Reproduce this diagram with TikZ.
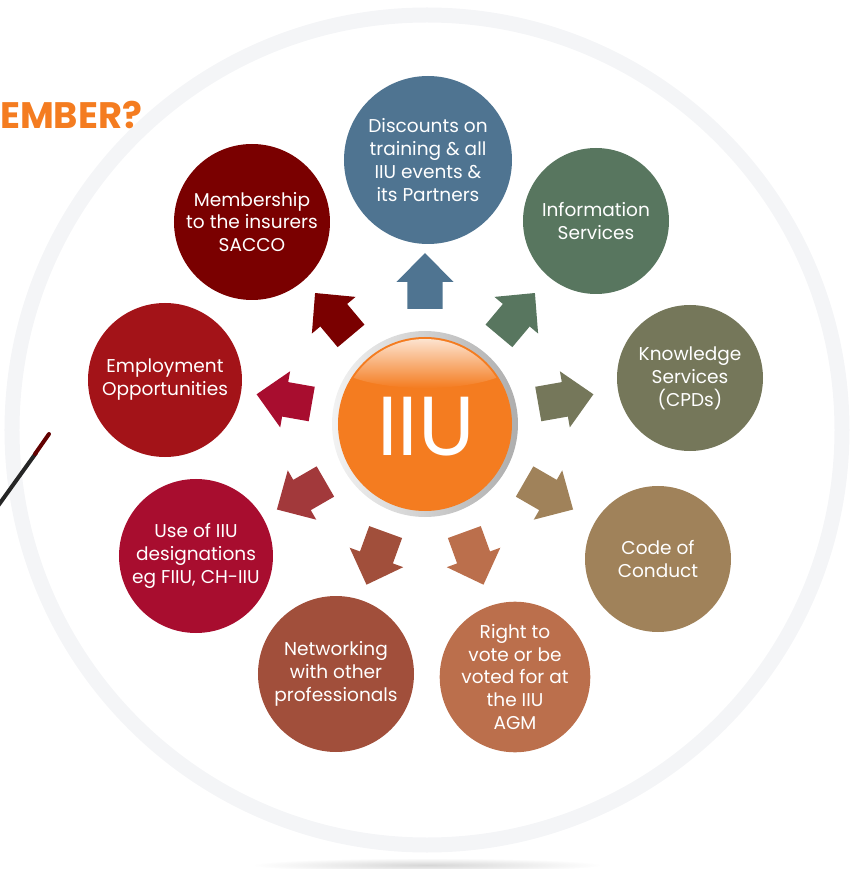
\documentclass[tikz,border=0pt]{standalone}
\usepackage{fontspec}
\setmainfont{Poppins}

\definecolor{iiuorange}{HTML}{F47C20}
\definecolor{ringgrey}{HTML}{F4F5F7}
\definecolor{discblue}{HTML}{4F7491}
\definecolor{infogreen}{HTML}{58765F}
\definecolor{knowolive}{HTML}{75775A}
\definecolor{codetan}{HTML}{A0825A}
\definecolor{votebrown}{HTML}{BB6F4C}
\definecolor{netbrown}{HTML}{A14F3B}
\definecolor{desigcrimson}{HTML}{A80D2F}
\definecolor{desigbrick}{HTML}{A2393B}
\definecolor{employred}{HTML}{A31318}
\definecolor{memmaroon}{HTML}{7A0000}

\tikzset{
  benefit/.style={circle, inner sep=0pt, text=white, align=center,
    font=\fontsize{18.6}{23}\selectfont},
}

\begin{document}
\begin{tikzpicture}[x=1bp,y=1bp]
\useasboundingbox (-425,-445) rectangle (425,424);

% big pale ring and its shadow
\shade[inner color=black!16, outer color=white] (2,-441) ellipse[x radius=175, y radius=7];
\draw[ringgrey, line width=15bp] (2,-6) circle[radius=415];

% heading at the left edge
\node[anchor=west, inner sep=0pt, text=iiuorange, font=\bfseries\fontsize{37}{37}\selectfont] (head) at (-425,309) {EMBER?};

% pen
\draw[black!85, line width=4bp, line cap=round] (-440,-100) -- (-389,-29);
\draw[memmaroon!80!black, line width=4bp, line cap=round] (-390,-30) -- (-376,-10);

% hub
\shade[left color=black!5, right color=black!32] (0,0) circle[radius=93];
\fill[iiuorange] (0,0) circle[radius=87];
\begin{scope}
  \clip (0,0) circle[radius=85];
  \shade[top color=white!96!iiuorange, bottom color=iiuorange] (0,66) ellipse[x radius=95, y radius=30];
\end{scope}
\node[circle, minimum size=186bp, inner sep=0pt] (hub) at (0,0) {};
\node[text=white, font=\fontsize{84}{84}\selectfont] (hubtext) at (1,-3) {IIU};

% benefits
\node[benefit, fill=discblue, minimum size=168bp] (disc) at (3,264) {Discounts on\\training \& all\\IIU events \&\\its Partners};
\node[benefit, fill=infogreen, minimum size=146bp] (info) at (171,203) {Information\\Services};
\node[benefit, fill=knowolive, minimum size=146bp] (know) at (265,46) {Knowledge\\Services\\(CPDs)};
\node[benefit, fill=codetan, minimum size=146bp] (code) at (233,-135) {Code of\\Conduct};
\node[benefit, fill=votebrown, minimum size=146bp] (vote) at (90,-253) {Right to\\vote or be\\voted for at\\the IIU\\AGM};
\node[benefit, fill=netbrown, minimum size=156bp] (net) at (-89,-250) {Networking\\with other\\professionals};
\node[benefit, fill=desigcrimson, minimum size=154bp] (desig) at (-229,-132) {Use of IIU\\designations\\eg FIIU, CH-IIU};
\node[benefit, fill=employred, minimum size=154bp] (employ) at (-260,44) {Employment\\Opportunities};
\node[benefit, fill=memmaroon, minimum size=156bp] (member) at (-173,202) {Membership\\to the insurers\\SACCO};

% block arrows out of the hub
\foreach \ang/\col in {90/discblue, 50/infogreen, 10/knowolive, -30/codetan, -70/votebrown,
    -110/netbrown, -150/desigbrick, 170/desigcrimson, 130/memmaroon}
  \fill[\col, shift={(hub.center)}, rotate=\ang]
    (115,-17.5) -- (142,-17.5) -- (142,-28.5) -- (171,0) -- (142,28.5) -- (142,17.5) -- (115,17.5) -- cycle;
\end{tikzpicture}
\end{document}
